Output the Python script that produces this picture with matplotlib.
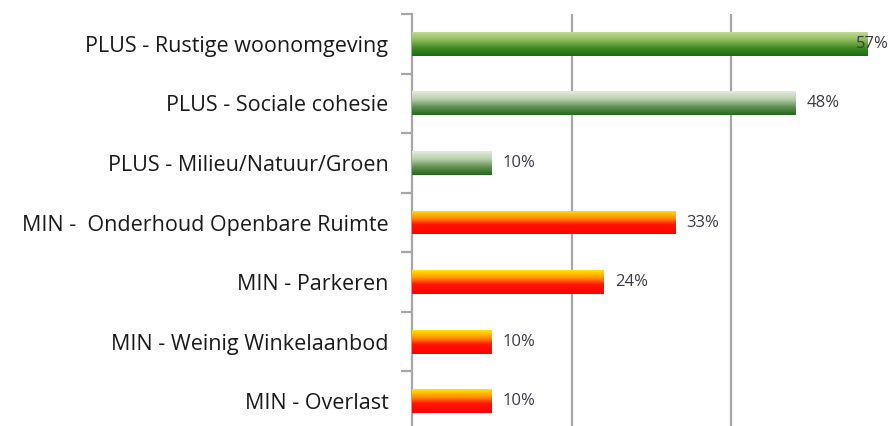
import matplotlib
matplotlib.use("Agg")
import matplotlib.pyplot as plt
from matplotlib.colors import LinearSegmentedColormap
import numpy as np

categories = [
    "PLUS - Rustige woonomgeving",
    "PLUS - Sociale cohesie",
    "PLUS - Milieu/Natuur/Groen",
    "MIN -  Onderhoud Openbare Ruimte",
    "MIN - Parkeren",
    "MIN - Weinig Winkelaanbod",
    "MIN - Overlast",
]
values = [57, 48, 10, 33, 24, 10, 10]
kinds = ["plus1", "plus", "plus", "min", "min", "min", "min"]

# gradient colour maps (top of bar -> bottom of bar)
cmaps = {
    "plus1": LinearSegmentedColormap.from_list("g1", ["#c2d99a", "#8fbb5a", "#3f8a25", "#1a6e10"]),
    "plus": LinearSegmentedColormap.from_list("g2", ["#e4ecdc", "#b8cfae", "#5f9050", "#22681a"]),
    "min": LinearSegmentedColormap.from_list("r", [(0, "#ffe800"), (0.35, "#ff8a00"), (0.6, "#ff1500"), (1, "#ff0000")]),
}

plt.rcParams['font.family'] = ['Open Sans', 'DejaVu Sans']

fig = plt.figure(figsize=(8.88, 4.26), dpi=100)
ax = fig.add_axes([412 / 888, 1 - 431 / 426, 479 / 888, 417 / 426])

y = np.arange(len(categories))
bars = ax.barh(y, values, height=0.4, color="none", zorder=3)

grad = np.linspace(0, 1, 256).reshape(-1, 1)
for bar, kind in zip(bars, kinds):
    x0, y0 = bar.get_x(), bar.get_y()
    w, h = bar.get_width(), bar.get_height()
    im = ax.imshow(grad, cmap=cmaps[kind], aspect="auto", zorder=3,
                   extent=[x0, x0 + w, y0 + h, y0], origin="upper")
    im.set_clip_path(bar)

for yi, v in zip(y, values):
    xl = min(v + 1.4, 55.6)
    ax.text(xl, yi, f"{v}%", va="center", ha="left", fontsize=12,
            color="#3a3a4a", zorder=4)

ax.set_xlim(0, 60)
ax.set_ylim(len(categories) - 0.5, -0.5)
ax.set_xticks([20, 40, 60])
ax.xaxis.grid(True, color="#a6a6a6", linewidth=1.6, zorder=0)
ax.tick_params(axis="x", length=0, labelbottom=False)

ax.set_yticks(y)
ax.set_yticklabels(categories, fontsize=15.5, color="#1a1a1a")
ax.set_yticks(np.arange(len(categories) + 1) - 0.5, minor=True)
ax.tick_params(axis="y", which="major", length=0, pad=17)
ax.tick_params(axis="y", which="minor", length=8, width=1.6, color="#a6a6a6")

for s in ["top", "right", "bottom"]:
    ax.spines[s].set_visible(False)
ax.spines["left"].set_color("#a6a6a6")
ax.spines["left"].set_linewidth(1.6)
ax.set_axisbelow(True)

fig.savefig("out.png", dpi=100)
